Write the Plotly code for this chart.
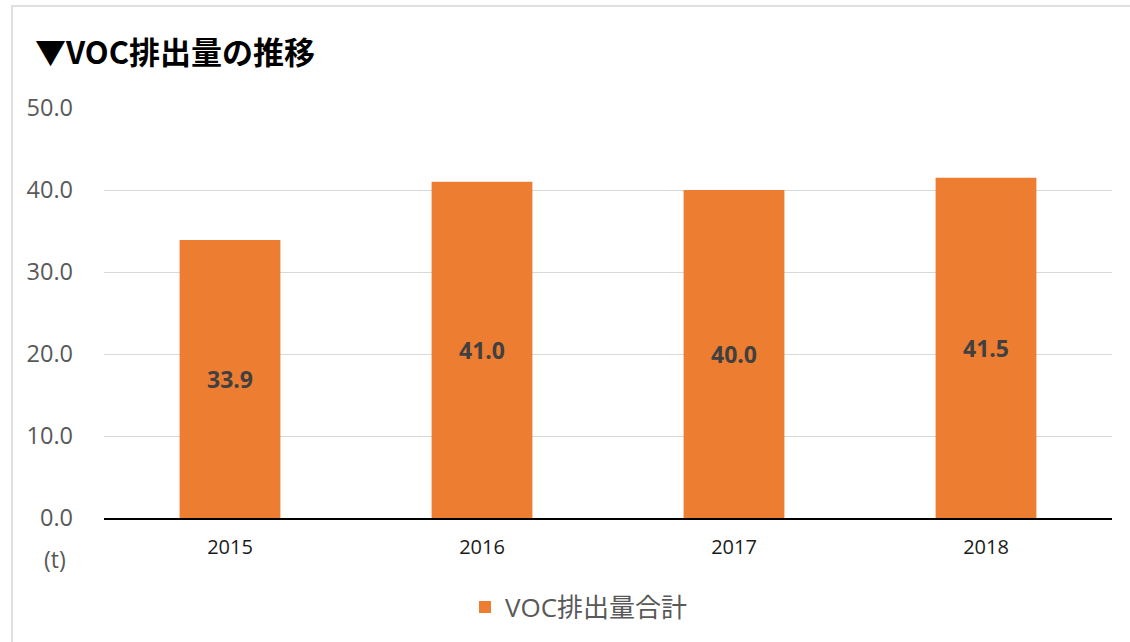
import plotly.graph_objects as go

years = ["2015", "2016", "2017", "2018"]
voc = [33.9, 41.0, 40.0, 41.5]
series_name = "VOC排出量合計"
title_text = "▼VOC排出量の推移"
unit_text = "(t)"

W, H = 1130, 642
ml, mr, mt, mb = 104, 18, 108, 124
pw, ph = W - ml - mr, H - mt - mb

fig = go.Figure()
fig.add_trace(go.Bar(
    x=years, y=voc, name=series_name,
    marker=dict(color="#ED7D31", line=dict(width=0)),
    text=[f"{v:.1f}" for v in voc],
    textposition="inside", insidetextanchor="middle",
    textfont=dict(family="Open Sans", size=23, color="#404040", weight="bold"),
    textangle=0,
))

fig.update_layout(
    width=W, height=H,
    margin=dict(l=ml, r=mr, t=mt, b=mb),
    paper_bgcolor="white", plot_bgcolor="white",
    bargap=0.6,
    showlegend=True,
    legend=dict(orientation="h", x=0.5 - 29 / pw, xanchor="center",
                y=-(607 - (mt + ph)) / ph, yanchor="middle",
                font=dict(family="Open Sans, Noto Sans CJK JP", size=26, color="#595959")),
    font=dict(family="Open Sans"),
    xaxis=dict(showline=True, linecolor="black", linewidth=1.5,
               tickfont=dict(size=20, color="#1a1a1a"), ticks="",
               ticklabelstandoff=10),
    yaxis=dict(range=[0, 50], dtick=10, tickformat=".1f",
               showgrid=True, gridcolor="#D9D9D9", gridwidth=1.3,
               zeroline=False, showline=False, ticks="",
               tickfont=dict(size=23.5, color="#595959"),
               ticklabelstandoff=30),
)

fig.add_annotation(text=title_text, xref="paper", yref="paper",
                   x=(33 - ml) / pw, y=1 + (mt - 50) / ph, xanchor="left", yanchor="middle",
                   showarrow=False,
                   font=dict(family="Noto Sans CJK JP", size=31, color="black", weight="bold"))
fig.add_annotation(text=unit_text, xref="paper", yref="paper",
                   x=(68 - ml) / pw, y=-(559 - (mt + ph)) / ph, xanchor="right", yanchor="middle",
                   showarrow=False,
                   font=dict(family="Open Sans", size=23, color="#595959"))

fig.add_shape(type="rect", xref="paper", yref="paper",
              x0=(12 - ml) / pw, x1=1.2, y0=-0.6, y1=1 + (mt - 6) / ph,
              line=dict(color="#E0E0E0", width=2), fillcolor="rgba(0,0,0,0)", layer="below")

fig.write_html("out.html", config={"displayModeBar": False},
               post_script="document.body.style.margin='0';")
